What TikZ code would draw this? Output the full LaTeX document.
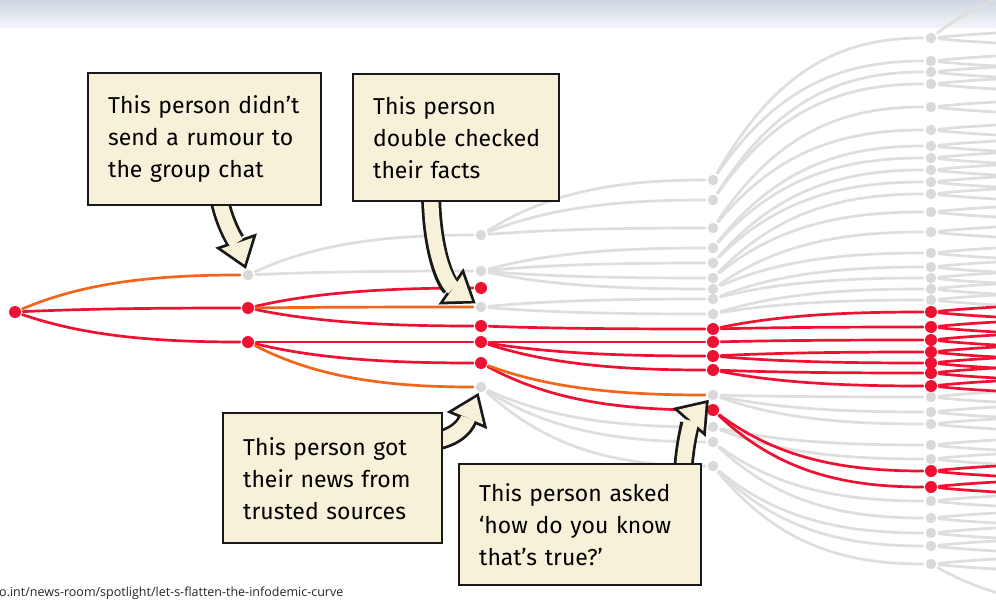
\documentclass[tikz,border=0pt]{standalone}
\usepackage{fontspec}
\setmainfont{Fira Sans}
\newfontfamily\urlfont{Open Sans}
\usetikzlibrary{calc,arrows.meta}
\definecolor{rumred}{HTML}{EE1131}
\definecolor{rumorange}{HTML}{F2661C}
\definecolor{lgray}{HTML}{DEDEDE}
\definecolor{dgray}{HTML}{D9D9D9}
\definecolor{cream}{HTML}{F8F1DA}
\definecolor{bandtop}{HTML}{CFD8E2}
\definecolor{bandbot}{HTML}{F2F5F8}
\tikzset{
  reddot/.style={circle,fill=rumred,inner sep=0pt,minimum size=12pt},
  graydot/.style={circle,fill=dgray,inner sep=0pt,minimum size=10.5pt},
  link/.style={line width=2.7pt,line cap=round,shorten >=8pt,shorten <=8pt},
  glink/.style={link,draw=lgray},
  rlink/.style={link,draw=rumred},
  olink/.style={link,draw=rumorange},
  callout/.style={draw=black!90,line width=2.4pt,fill=cream,inner sep=0pt,align=left,
    font=\fontsize{23}{32}\selectfont,anchor=north west},
  arrowout/.style={line width=20pt,draw=black!90,shorten >=1pt,
    -{Triangle[width=44pt,length=30pt,line width=0pt]}},
  arrowin/.style={line width=14.5pt,draw=cream,shorten >=5.6pt,
    -{Triangle[width=33pt,length=22.6pt,line width=0pt]}},
}
\newcommand\lnk[3]{\draw[#1] let \p1=(#2),\p2=(#3) in (\p1) .. controls (\x1*0.7+\x2*0.3,\y1*0.2+\y2*0.8) and (\x2*0.6+\x1*0.4,\y2) .. (\p2);}
\begin{document}
\begin{tikzpicture}[x=1pt,y=-1pt]
\useasboundingbox (0,0) rectangle (996,602);
\fill[white] (0,0) rectangle (996,602);
\shade[top color=bandtop,bottom color=bandbot] (0,0) rectangle (996,28);
\begin{scope}
\clip (0,0) rectangle (996,602);
% dots
\node[reddot] (c0y312) at (15,312) {};
\foreach \v in {275} \node[graydot] (c1y\v) at (248,\v) {};
\foreach \v in {308,342} \node[reddot] (c1y\v) at (248,\v) {};
\foreach \v in {235,271,307,387} \node[graydot] (c2y\v) at (481,\v) {};
\foreach \v in {288,326,342,363} \node[reddot] (c2y\v) at (481,\v) {};
\foreach \v in {180,200,228,248,263,278,289,299,314,395,427,442,466} \node[graydot] (c3y\v) at (713,\v) {};
\foreach \v in {329,342,356,370,410} \node[reddot] (c3y\v) at (713,\v) {};
\foreach \v in {38,61,72,84,107,130,146,158,170,182,194,212,232,253,267,278,289,300,397,412,424,445,459,501,518,533,546,564} \node[graydot] (c4y\v) at (931,\v) {};
\foreach \v in {312,327,340,352,363,373,386,471,487} \node[reddot] (c4y\v) at (931,\v) {};
% stub ends beyond the right edge
\foreach \v in {38,61,72,84,107,130,146,158,170,182,194,212,232,253,267,278,289,300,397,412,424,445,459,501,518,533,546,564,312,327,340,352,363,373,386,471,487} {
  \coordinate (s\v a) at (1150,\v-8);
  \coordinate (s\v b) at (1150,\v+8);
}
\coordinate (stopx) at (1150,-25);
\coordinate (sbotx) at (1150,610);
% gray links
\foreach \a/\b in {c1y275/c2y235,c1y275/c2y271,
  c2y235/c3y180,c2y235/c3y200,c2y235/c3y228,
  c2y271/c3y248,c2y271/c3y263,c2y271/c3y278,c2y271/c3y289,
  c2y307/c3y299,c2y307/c3y314,
  c2y387/c3y427,c2y387/c3y442,c2y387/c3y466,
  c3y180/c4y38,c3y180/c4y61,c3y200/c4y72,c3y200/c4y84,
  c3y228/c4y107,c3y228/c4y130,c3y248/c4y146,c3y248/c4y158,
  c3y263/c4y170,c3y263/c4y182,c3y278/c4y194,c3y278/c4y212,
  c3y289/c4y232,c3y289/c4y253,c3y299/c4y267,c3y299/c4y278,
  c3y314/c4y289,c3y314/c4y300,
  c3y395/c4y397,c3y395/c4y412,c3y395/c4y424,
  c3y427/c4y445,c3y427/c4y459,c3y442/c4y501,c3y442/c4y518,
  c3y466/c4y533,c3y466/c4y546,c3y466/c4y564,
  c4y38/stopx,c4y564/sbotx} \lnk{glink}{\a}{\b};
\foreach \v in {38,61,72,84,107,130,146,158,170,182,194,212,232,253,267,278,289,300,397,412,424,445,459,501,518,533,546,564} {
  \lnk{glink}{c4y\v}{s\v a}
  \lnk{glink}{c4y\v}{s\v b}
}
% red and orange links
\foreach \a/\b in {c0y312/c1y308,c0y312/c1y342,
  c1y308/c2y288,c1y308/c2y326,c1y342/c2y342,c1y342/c2y363,
  c2y326/c3y329,c2y342/c3y342,c2y342/c3y356,c2y342/c3y370,c2y363/c3y410,
  c3y329/c4y312,c3y329/c4y327,c3y342/c4y340,c3y356/c4y352,c3y356/c4y363,
  c3y370/c4y373,c3y370/c4y386,c3y410/c4y471,c3y410/c4y487} \lnk{rlink}{\a}{\b};
\foreach \v in {312,327,340,352,363,373,386,471,487} {
  \lnk{rlink}{c4y\v}{s\v a}
  \lnk{rlink}{c4y\v}{s\v b}
}
\foreach \a/\b in {c0y312/c1y275,c1y308/c2y307,c1y342/c2y387,c2y363/c3y395} \lnk{olink}{\a}{\b};
\end{scope}
% block arrows
\coordinate (a1s) at (218,190);
\coordinate (a2s) at (431,190);
\coordinate (a3s) at (425,442);
\coordinate (a4s) at (683,478);
\foreach \st in {arrowout,arrowin} {
  \draw[\st] (a1s) .. controls (222,222) and (238,246) .. (c1y275);
  \draw[\st] (a2s) .. controls (431,250) and (446,283) .. (c2y307);
  \draw[\st] (a3s) .. controls (462,440) and (468,418) .. (c2y387);
  \draw[\st] (a4s) .. controls (684,440) and (693,418) .. (c3y395);
}
% callouts
\node[callout,minimum width=233pt,minimum height=132pt,text width=193pt] (box1) at (87,72)
  {\mbox{This person didn’t}\\\mbox{send a rumour to}\\\mbox{the group chat}};
\node[callout,minimum width=206pt,minimum height=127pt,text width=166pt] (box2) at (352,73)
  {\mbox{This person}\\\mbox{double checked}\\\mbox{their facts}};
\node[callout,minimum width=219pt,minimum height=130pt,text width=179pt] (box3) at (222,412)
  {\mbox{This person got}\\\mbox{their news from}\\\mbox{trusted sources}};
\node[callout,minimum width=242pt,minimum height=121pt,text width=202pt] (box4) at (458,463)
  {\mbox{This person asked}\\\mbox{‘how do you know}\\\mbox{that’s true?’}};
\node[anchor=base west,inner sep=0pt,text=black!85,font=\urlfont\fontsize{12.5}{14}\selectfont] (url) at (-1,596)
  {o.int/news-room/spotlight/let-s-flatten-the-infodemic-curve};
\end{tikzpicture}
\end{document}
